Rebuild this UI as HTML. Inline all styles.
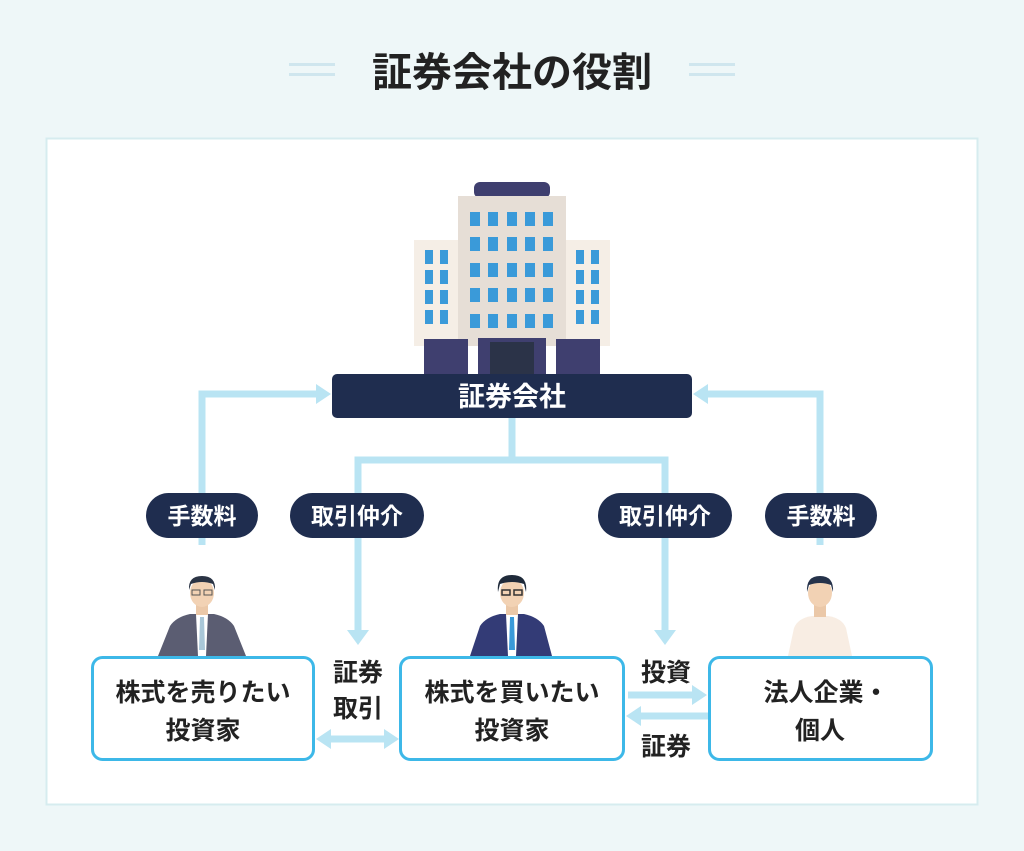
<!DOCTYPE html>
<html><head><meta charset="utf-8"><style>
html,body{margin:0;padding:0;background:#eef7f8;}
svg{display:block;}
text{font-family:"Liberation Sans","Noto Sans CJK JP",sans-serif;font-weight:bold;}
</style></head><body>
<svg width="1024" height="851" viewBox="0 0 1024 851" xmlns="http://www.w3.org/2000/svg">
<rect width="1024" height="851" fill="#eef7f8"/>
<!-- title -->
<rect x="289" y="63" width="46" height="3" fill="#cfe6ee"/><rect x="289" y="73" width="46" height="3" fill="#cfe6ee"/>
<rect x="689" y="63" width="46" height="3" fill="#cfe6ee"/><rect x="689" y="73" width="46" height="3" fill="#cfe6ee"/>
<text x="512" y="86" font-size="40" fill="#222" text-anchor="middle">証券会社の役割</text>
<!-- panel -->
<rect x="46.5" y="138.5" width="931" height="666" fill="#fff" stroke="#d6ecef" stroke-width="2"/>

<!-- building -->
<rect x="474" y="182" width="76" height="16" rx="6" fill="#3f3f6f"/>
<rect x="414" y="240" width="46" height="106" fill="#f5eee6"/>
<rect x="564" y="240" width="46" height="106" fill="#f5eee6"/>
<rect x="458" y="196" width="108" height="150" fill="#e6ded6"/>
<g fill="#3a9ad9">
<rect x="470" y="212" width="10" height="14"/><rect x="488" y="212" width="10" height="14"/><rect x="507" y="212" width="10" height="14"/><rect x="525" y="212" width="10" height="14"/><rect x="543" y="212" width="10" height="14"/>
<rect x="470" y="237" width="10" height="14"/><rect x="488" y="237" width="10" height="14"/><rect x="507" y="237" width="10" height="14"/><rect x="525" y="237" width="10" height="14"/><rect x="543" y="237" width="10" height="14"/>
<rect x="470" y="263" width="10" height="14"/><rect x="488" y="263" width="10" height="14"/><rect x="507" y="263" width="10" height="14"/><rect x="525" y="263" width="10" height="14"/><rect x="543" y="263" width="10" height="14"/>
<rect x="470" y="288" width="10" height="14"/><rect x="488" y="288" width="10" height="14"/><rect x="507" y="288" width="10" height="14"/><rect x="525" y="288" width="10" height="14"/><rect x="543" y="288" width="10" height="14"/>
<rect x="470" y="314" width="10" height="14"/><rect x="488" y="314" width="10" height="14"/><rect x="507" y="314" width="10" height="14"/><rect x="525" y="314" width="10" height="14"/><rect x="543" y="314" width="10" height="14"/>
<rect x="425" y="250" width="8" height="14"/><rect x="440" y="250" width="8" height="14"/>
<rect x="425" y="270" width="8" height="14"/><rect x="440" y="270" width="8" height="14"/>
<rect x="425" y="290" width="8" height="14"/><rect x="440" y="290" width="8" height="14"/>
<rect x="425" y="310" width="8" height="14"/><rect x="440" y="310" width="8" height="14"/>
<rect x="576" y="250" width="8" height="14"/><rect x="591" y="250" width="8" height="14"/>
<rect x="576" y="270" width="8" height="14"/><rect x="591" y="270" width="8" height="14"/>
<rect x="576" y="290" width="8" height="14"/><rect x="591" y="290" width="8" height="14"/>
<rect x="576" y="310" width="8" height="14"/><rect x="591" y="310" width="8" height="14"/>
</g>
<rect x="424" y="339" width="44" height="36" fill="#3f3f6f"/>
<rect x="556" y="339" width="44" height="36" fill="#3f3f6f"/>
<rect x="478" y="338" width="68" height="37" fill="#3f3f6f"/>
<rect x="490" y="342" width="44" height="33" fill="#2b3348"/>

<!-- connectors -->
<g stroke="#b9e4f3" stroke-width="7" fill="none">
<polyline points="202,545 202,394 318,394"/>
<polyline points="820,545 820,394 706,394"/>
<polyline points="512,418 512,460"/>
<polyline points="358,630 358,460 665,460 665,630"/>
<line x1="330" y1="739" x2="384" y2="739"/>
<line x1="628" y1="695" x2="694" y2="695"/>
<line x1="640" y1="716" x2="708" y2="716"/>
</g>
<g fill="#b9e4f3">
<polygon points="316,384 331,394 316,404"/>
<polygon points="708,384 693,394 708,404"/>
<polygon points="347,630 369,630 358,645"/>
<polygon points="654,630 676,630 665,645"/>
<polygon points="331,729 316,739 331,749"/>
<polygon points="384,729 399,739 384,749"/>
<polygon points="692,685 707,695 692,705"/>
<polygon points="641,706 626,716 641,726"/>
</g>

<!-- navy bar -->
<rect x="332" y="374" width="360" height="44" rx="5" fill="#1f2d4f"/>
<text x="512" y="406" font-size="27" fill="#fff" text-anchor="middle">証券会社</text>

<!-- pills -->
<g fill="#1f2d4f">
<rect x="146" y="493" width="112" height="45" rx="22.5"/>
<rect x="290" y="493" width="134" height="45" rx="22.5"/>
<rect x="598" y="493" width="134" height="45" rx="22.5"/>
<rect x="765" y="493" width="112" height="45" rx="22.5"/>
</g>
<g font-size="23" fill="#fff" text-anchor="middle">
<text x="202" y="524">手数料</text>
<text x="357" y="524">取引仲介</text>
<text x="665" y="524">取引仲介</text>
<text x="821" y="524">手数料</text>
</g>

<!-- people -->
<path d="M158,656 L170,626 Q176,617 190,614 L214,614 Q228,617 234,626 L246,656 Z" fill="#5b5d72"/>
<path d="M196,614 L208,614 L206,656 L198,656 Z" fill="#fff"/>
<path d="M200,617 L204,617 L205,650 L199,650 Z" fill="#a9c7d8"/>
<rect x="196" y="602" width="12" height="13" fill="#ebc8a8"/>
<ellipse cx="202" cy="593" rx="12" ry="14" fill="#f2d2b4"/>
<path d="M189,590 Q188,576 202,576 Q216,576 215,590 L213,584 Q202,580 191,584 Z" fill="#2b3445"/>
<rect x="192" y="590" width="8" height="5" fill="none" stroke="#555" stroke-width="1"/><rect x="204" y="590" width="8" height="5" fill="none" stroke="#555" stroke-width="1"/>
<path d="M470,656 L480,626 Q486,617 500,614 L524,614 Q538,617 544,626 L552,656 Z" fill="#333b76"/>
<path d="M506,614 L518,614 L516,656 L508,656 Z" fill="#fff"/>
<path d="M510,617 L514,617 L515,650 L509,650 Z" fill="#3a9ad9"/>
<rect x="506" y="602" width="12" height="13" fill="#ebc8a8"/>
<ellipse cx="512" cy="593" rx="12" ry="14" fill="#f2d2b4"/>
<path d="M498,592 Q496,575 512,575 Q528,575 526,592 L524,584 Q512,580 500,584 Z" fill="#1f2a3a"/>
<rect x="502" y="590" width="8" height="5" fill="none" stroke="#333" stroke-width="1.5"/><rect x="514" y="590" width="8" height="5" fill="none" stroke="#333" stroke-width="1.5"/>
<path d="M788,656 L794,628 Q798,618 812,616 L828,616 Q842,618 846,628 L852,656 Z" fill="#f8ede3"/>
<rect x="814" y="604" width="12" height="13" fill="#ebc8a8"/>
<ellipse cx="820" cy="593" rx="12" ry="14" fill="#f2d2b4"/>
<path d="M807,592 Q806,576 820,576 Q834,576 833,592 L831,585 Q820,581 809,585 Z" fill="#25324a"/>

<!-- boxes -->
<g fill="#fff" stroke="#3db8e8" stroke-width="3">
<rect x="92.5" y="657.5" width="221" height="102" rx="10"/>
<rect x="400.5" y="657.5" width="223" height="102" rx="10"/>
<rect x="709.5" y="657.5" width="222" height="102" rx="10"/>
</g>
<g font-size="25" fill="#222" text-anchor="middle">
<text x="203" y="701">株式を売りたい</text>
<text x="203" y="739">投資家</text>
<text x="512" y="701">株式を買いたい</text>
<text x="512" y="739">投資家</text>
<text x="826" y="701">法人企業・</text>
<text x="820" y="739">個人</text>
<text x="358" y="681">証券</text>
<text x="358" y="717">取引</text>
<text x="666" y="681">投資</text>
<text x="666" y="755">証券</text>
</g>
</svg>
</body></html>
